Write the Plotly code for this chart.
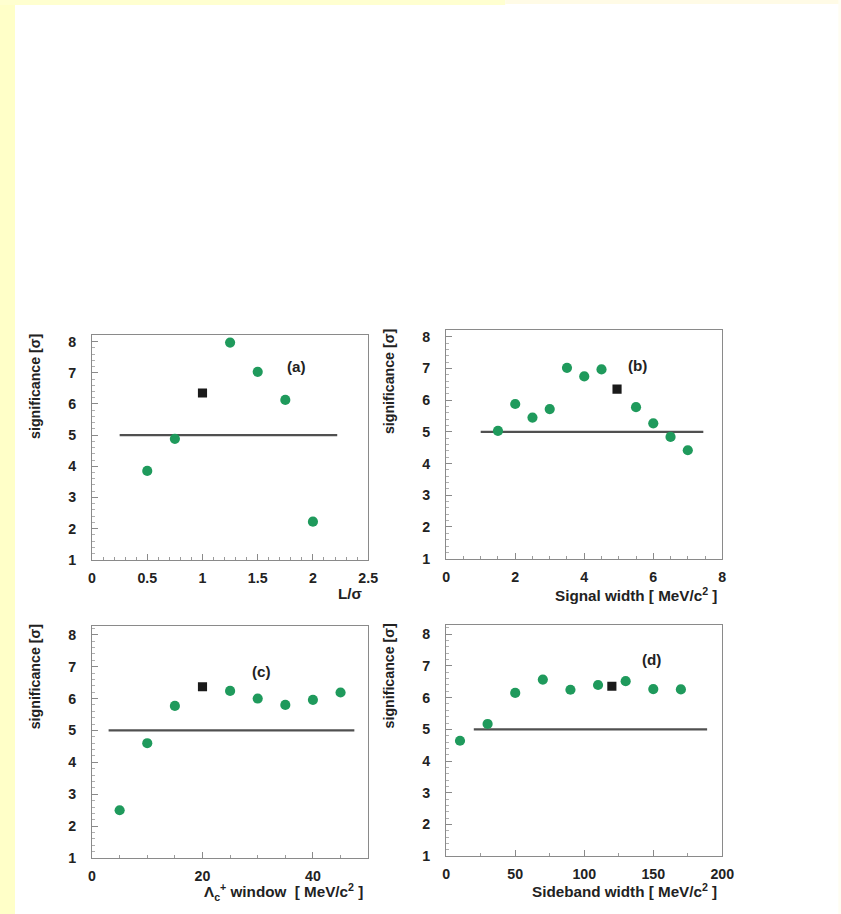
import plotly.graph_objects as go

# reference picture size: every pixel position below is read in this frame
W, H = 841, 914
# the photographed page comes out slightly shrunk (x ~0.981, y ~0.988),
# so the figure is drawn a bit larger and positions are converted
SX, SY = 0.981, 0.988
FIG_W, FIG_H = 861, 930
S = 1 / 0.985  # font / marker scale


def fx(p):
    return (p / SX) / FIG_W


def fy(p):
    return 1 - (p / SY) / FIG_H


# ---- data ----
a_x = [0.5, 0.75, 1.25, 1.5, 1.75, 2.0]
a_y = [3.85, 4.88, 7.97, 7.03, 6.13, 2.22]
a_ref_x = [1.0]
a_ref_y = [6.35]
a_line_x = [0.25, 2.22]

b_x = [1.5, 2.0, 2.5, 3.0, 3.5, 4.0, 4.5, 5.5, 6.0, 6.5, 7.0]
b_y = [5.03, 5.88, 5.45, 5.72, 7.02, 6.75, 6.97, 5.78, 5.27, 4.84, 4.42]
b_ref_x = [4.95]
b_ref_y = [6.35]
b_line_x = [1.0, 7.45]

c_x = [5, 10, 15, 25, 30, 35, 40, 45]
c_y = [2.5, 4.6, 5.77, 6.24, 6.0, 5.8, 5.96, 6.19]
c_ref_x = [20]
c_ref_y = [6.37]
c_line_x = [3, 47.5]

d_x = [10, 30, 50, 70, 90, 110, 130, 150, 170]
d_y = [4.64, 5.17, 6.15, 6.57, 6.25, 6.4, 6.52, 6.27, 6.26]
d_ref_x = [120]
d_ref_y = [6.36]
d_line_x = [20, 189]

threshold = 5
x_ranges = [[0, 2.5], [0, 8], [0, 50], [0, 200]]
x_dticks = [0.5, 2, 20, 50]
x_minor = [0.1, 0.5, 5, 25]
y_ticks = [1, 2, 3, 4, 5, 6, 7, 8]
panel_labels = ["(a)", "(b)", "(c)", "(d)"]
label_pos = [(1.85, 7.2), (5.55, 7.1), (30.7, 6.85), (149, 7.2)]
x_titles = ["L/σ", "Signal width [ MeV/c<sup>2</sup> ]",
            "Λ<sub>c</sub><sup>+</sup> window  [ MeV/c<sup>2</sup> ]",
            "Sideband width [ MeV/c<sup>2</sup> ]"]
y_title = "significance [σ]"

# ---- layout geometry (pixels in reference frame) ----
boxes = [(92, 368, 335, 559), (446, 722, 330, 558), (92, 368, 625, 857), (446, 722, 624, 855)]
y_tops = [8.2, 8.2, 8.28, 8.3]
x_title_y = [593, 594, 891, 889]

GREEN = "#1f9a5c"
FONT = "Liberation Sans"

fig = go.Figure()
series = [(a_x, a_y, a_ref_x, a_ref_y, a_line_x),
          (b_x, b_y, b_ref_x, b_ref_y, b_line_x),
          (c_x, c_y, c_ref_x, c_ref_y, c_line_x),
          (d_x, d_y, d_ref_x, d_ref_y, d_line_x)]

layout = {}
annotations = []
for i, (sx, sy, rx, ry, lx) in enumerate(series):
    n = "" if i == 0 else str(i + 1)
    xa, ya = "x" + n, "y" + n
    fig.add_trace(go.Scatter(x=lx, y=[threshold, threshold], mode="lines",
                             line=dict(color="#505050", width=2.2 * S),
                             xaxis=xa, yaxis=ya, showlegend=False))
    fig.add_trace(go.Scatter(x=sx, y=sy, mode="markers",
                             marker=dict(color=GREEN, size=10 * S, symbol="circle",
                                         line=dict(width=0)),
                             xaxis=xa, yaxis=ya, showlegend=False))
    fig.add_trace(go.Scatter(x=rx, y=ry, mode="markers",
                             marker=dict(color="#1a1a1a", size=9 * S, symbol="square",
                                         line=dict(width=0)),
                             xaxis=xa, yaxis=ya, showlegend=False))
    x0, x1, y0, y1 = boxes[i]
    axis_common = dict(showline=True, linecolor="#8a8a8a", linewidth=1.2, mirror=True,
                       showgrid=False, zeroline=False, ticks="inside", ticklen=6,
                       tickcolor="#8a8a8a", tickwidth=1,
                       tickfont=dict(family=FONT, size=14 * S, color="#222", weight="bold"))
    layout["xaxis" + n] = dict(axis_common, domain=[fx(x0), fx(x1)],
                               range=x_ranges[i], dtick=x_dticks[i], tick0=0,
                               anchor=ya, ticklabelstandoff=5,
                               minor=dict(dtick=x_minor[i], ticks="inside", ticklen=3,
                                          tickcolor="#9a9a9a"))
    layout["yaxis" + n] = dict(axis_common, domain=[fy(y1), fy(y0)],
                               range=[1, y_tops[i]], tickvals=y_ticks,
                               anchor=xa, ticklabelstandoff=12,
                               minor=dict(dtick=0.2, ticks="inside", ticklen=3,
                                          tickcolor="#b0b0b0"))
    lx_, ly_ = label_pos[i]
    annotations.append(dict(x=lx_, y=ly_, xref=xa, yref=ya, text=panel_labels[i],
                            showarrow=False,
                            font=dict(family=FONT, size=15 * S, color="#222", weight="bold")))
    annotations.append(dict(x=fx(x1 - 3), y=fy(x_title_y[i]), xref="paper",
                            yref="paper", text=x_titles[i], showarrow=False,
                            xanchor="right", yanchor="middle",
                            font=dict(family=FONT, size=15 * S, color="#222", weight="bold")))
    yt_x = 35 if i % 2 == 0 else 389
    annotations.append(dict(x=fx(yt_x), y=fy(y0 - 3), xref="paper", yref="paper",
                            text=y_title, showarrow=False, textangle=-90,
                            xanchor="center", yanchor="top",
                            font=dict(family=FONT, size=14 * S, color="#222", weight="bold")))

shapes = [
    dict(type="rect", xref="paper", yref="paper", x0=0, x1=fx(15), y0=0, y1=1,
         fillcolor="#ffffc8", line=dict(width=0), layer="below"),
    dict(type="rect", xref="paper", yref="paper", x0=0, x1=fx(505), y0=fy(5), y1=1,
         fillcolor="#ffffd0", line=dict(width=0), layer="below"),
    dict(type="rect", xref="paper", yref="paper", x0=fx(505), x1=1, y0=fy(4), y1=1,
         fillcolor="#fffbe6", line=dict(width=0), layer="below"),
    dict(type="rect", xref="paper", yref="paper", x0=fx(838), x1=1, y0=0, y1=1,
         fillcolor="#fffdf2", line=dict(width=0), layer="below"),
]

fig.update_layout(width=FIG_W, height=FIG_H, margin=dict(l=0, r=0, t=0, b=0),
                  paper_bgcolor="white", plot_bgcolor="white",
                  annotations=annotations, shapes=shapes, showlegend=False,
                  **layout)

fig.write_html("out.html", config={"displayModeBar": False},
               post_script="document.documentElement.style.overflow='hidden';"
                           "document.body.style.margin='-2px 0 0 -4px';"
                           "document.body.style.overflow='hidden';")
